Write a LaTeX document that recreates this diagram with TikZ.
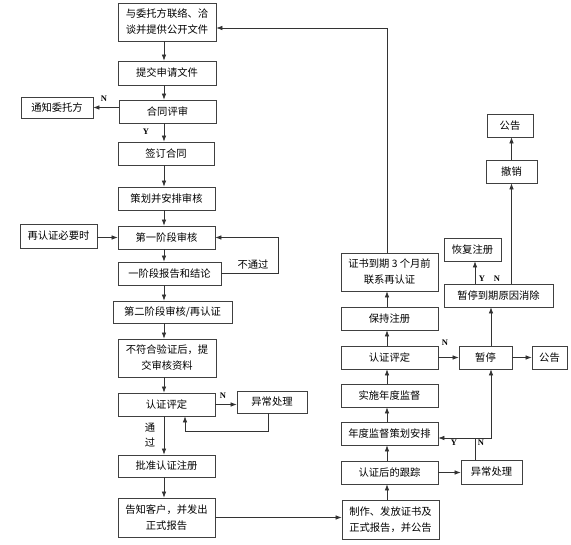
\documentclass[tikz,border=0pt]{standalone}
\usepackage{fontspec}
\setmainfont{Liberation Serif}
\newfontfamily\cjk{Noto Sans CJK SC}
\usetikzlibrary{arrows.meta}

\begin{document}
\begin{tikzpicture}[x=1pt,y=-1pt]
   \tikzstyle{every node}=[font=\cjk\fontsize{10.3}{16}\selectfont]
   \tikzstyle{box}=[draw=black!75, line width=0.8pt, minimum height=23pt, inner sep=0pt, align=center]
   \tikzstyle{arr}=[draw=black!80, line width=0.7pt, -{Latex[length=6pt,width=4.6pt]}]
   \tikzstyle{line}=[draw=black!80, line width=0.7pt]
   \tikzstyle{yn}=[font=\fontsize{8.5}{9}\selectfont\bfseries, inner sep=0pt]

\useasboundingbox (0,0) rectangle (571,545);

% left column
\node[box, minimum width=98pt, minimum height=38pt] (contact) at (167,22) {与委托方联络、洽\\谈并提供公开文件};
\node[box, minimum width=98pt, minimum height=24pt] (apply) at (167,73) {提交申请文件};
\node[box, minimum width=97pt] (review) at (167.5,111.5) {合同评审};
\node[box, minimum width=72pt, minimum height=21pt] (notify) at (57,107.5) {通知委托方};
\node[box, minimum width=96pt] (sign) at (166,153.5) {签订合同};
\node[box, minimum width=97pt] (plan) at (166.5,198.5) {策划并安排审核};
\node[box, minimum width=97pt] (stage1) at (166.5,237.5) {第一阶段审核};
\node[box, minimum width=77pt, minimum height=24pt] (recert) at (58.5,236) {再认证必要时};
\node[box, minimum width=103pt] (report1) at (169.5,273.5) {一阶段报告和结论};
\node[box, minimum width=119pt, minimum height=22pt] (stage2) at (172.5,312) {第二阶段审核/再认证};
\node[box, minimum width=98pt, minimum height=38pt] (verify) at (167,358) {不符合验证后，提\\交审核资料};
\node[box, minimum width=97pt] (decide) at (166.5,404.5) {认证评定};
\node[box, minimum width=70pt, minimum height=22pt] (abnormal) at (272,402) {异常处理};
\node[box, minimum width=97pt, minimum height=22pt] (approve) at (166.5,466) {批准认证注册};
\node[box, minimum width=97pt, minimum height=39pt] (inform) at (166.5,517.5) {告知客户，并发出\\正式报告};

% right column
\node[box, minimum width=97pt, minimum height=38pt] (expiry) at (389.5,272) {证书到期 3 个月前\\联系再认证};
\node[box, minimum width=97pt] (keep) at (389.5,318.5) {保持注册};
\node[box, minimum width=97pt] (decide2) at (389.5,357.5) {认证评定};
\node[box, minimum width=53pt] (suspend) at (485.5,357.5) {暂停};
\node[box, minimum width=35pt] (notice) at (549.5,357.5) {公告};
\node[box, minimum width=109pt] (cleared) at (498.5,295.5) {暂停到期原因消除};
\node[box, minimum width=57pt] (restore) at (472.5,249.5) {恢复注册};
\node[box, minimum width=51pt] (revoke) at (511.5,171.5) {撤销};
\node[box, minimum width=46pt] (notice2) at (510,125.5) {公告};
\node[box, minimum width=97pt] (annual) at (389.5,395.5) {实施年度监督};
\node[box, minimum width=97pt] (schedule) at (389.5,433.5) {年度监督策划安排};
\node[box, minimum width=97pt] (follow) at (389.5,472.5) {认证后的跟踪};
\node[box, minimum width=61pt, minimum height=24pt] (abnormal2) at (491.5,472) {异常处理};
\node[box, minimum width=97pt, minimum height=39pt] (issue) at (390.5,519.5) {制作、发放证书及\\正式报告，并公告};

\coordinate (lx) at (164,0);
\coordinate (rx) at (387,0);
\coordinate (sx) at (491,0);
\coordinate (top) at (387,28);
\coordinate (fork) at (475,438);

% main flow
\foreach \a/\b in {contact/apply, apply/review, review/sign, sign/plan, plan/stage1, stage1/report1,
                   report1/stage2, stage2/verify, verify/decide, decide/approve, approve/inform}
   \draw[arr] (lx |- \a.south) -- (lx |- \b.north);
\foreach \a/\b in {issue/follow, follow/schedule, schedule/annual, annual/decide2, decide2/keep, keep/expiry}
   \draw[arr] (rx |- \a.north) -- (rx |- \b.south);
\draw[arr] (rx |- expiry.north) -- (top) -- (top -| contact.east);

% branches left
\draw[arr] (review.west |- notify.east) -- (notify.east);
\node[yn] at (104,99) {N};
\node[yn] at (146,132) {Y};
\draw[arr] (recert.east |- stage1.west) -- (stage1.west);
\draw[arr] (report1.east) -- ++(57,0) |- (stage1.east);
\node at (253,265) {不通过};
\draw[arr] (decide.east) -- (decide.east -| abnormal.west);
\node[yn] at (223,396) {N};
\draw[arr] ([xshift=-4pt]abnormal.south) -- ++(0,18) -| ([xshift=18.5pt]decide.south);
\node[align=center, font=\cjk\fontsize{10.3}{15}\selectfont] at (150,435.5) {通\\过};
\draw[arr] (inform.east) -- (inform.east -| issue.west);

% branches right
\draw[arr] (decide2.east) -- (suspend.west);
\node[yn] at (445,343) {N};
\draw[arr] (suspend.east) -- (notice.west);
\draw[arr] (sx |- suspend.north) -- (sx |- cleared.south);
\draw[arr] (cleared.north -| fork) -- (restore.south -| fork);
\draw[arr] (cleared.north -| revoke.south) -- (revoke.south);
\draw[arr] (revoke.north) -- (revoke.north |- notice2.south);
\node[yn] at (482,279) {Y};
\node[yn] at (497,279) {N};
\draw[arr] (follow.east) -- (follow.east -| abnormal2.west);
\draw[line] (abnormal2.north -| fork) -- (fork);
\draw[arr] (fork) -- (fork -| schedule.east);
\draw[arr] (fork) -| (sx |- suspend.south);
\node[yn] at (454,443) {Y};
\node[yn] at (481,443) {N};

\end{tikzpicture}
\end{document}
